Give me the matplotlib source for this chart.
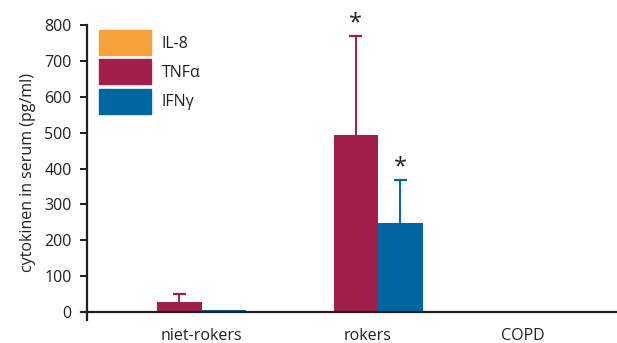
import numpy as np
import matplotlib.pyplot as plt
from matplotlib.patches import Patch

# groepen en cytokine-waarden (pg/ml)
groups = ['niet-rokers', 'rokers', 'COPD']
group_pos = [0.0, 1.0, 2.0]
label_pos = [0.0, 0.94, 1.82]
il8 = [0, 0, 0]
tnf = [28, 494, 0]
tnf_err = [22, 276, 0]
ifn = [5, 247, 0]
ifn_err = [0, 120, 0]
signif_tnf = [False, True, False]
signif_ifn = [False, True, False]

c_il8 = '#f7a13b'
c_tnf = '#a11f4a'
c_ifn = '#0066a2'
txt = '#231f20'

plt.rcParams['font.family'] = ['Open Sans', 'DejaVu Sans']
plt.rcParams['font.size'] = 11.5
plt.rcParams['text.color'] = txt

fig = plt.figure(figsize=(6.17, 3.43), dpi=100)
ax = fig.add_axes([0.141, 0.067, 0.859, 0.860])

w = 0.252
x = np.array(group_pos)
ax.bar(x - 1.5 * w, il8, w, color=c_il8, linewidth=0)
ax.bar(x - w / 2, tnf, w, color=c_tnf, linewidth=0)
ax.bar(x + w / 2, ifn, w, color=c_ifn, linewidth=0)

# alleen bovenste foutbalk met dop
cap = 0.037
for xs, vals, errs, sig, col in [(x - w / 2, tnf, tnf_err, signif_tnf, c_tnf),
                                 (x + w / 2, ifn, ifn_err, signif_ifn, c_ifn)]:
    for xi, v, e, s in zip(xs, vals, errs, sig):
        if e > 0:
            ax.vlines(xi, v, v + e, color=col, lw=1.4)
            ax.hlines(v + e, xi - cap, xi + cap, color=col, lw=1.6)
        if s:
            ax.text(xi, v + e + 2, '*', ha='center', va='bottom', fontsize=17,
                    color=txt, clip_on=False)

ax.set_xlim(-0.649, 2.354)
ax.set_ylim(-22, 800)
ax.set_yticks(range(0, 801, 100))
ax.axhline(0, color=txt, lw=1.6, xmin=-0.012, clip_on=False, zorder=3)

ax.set_xticks(label_pos)
ax.set_xticklabels(groups)
ax.tick_params(axis='x', length=0, pad=5.5, colors=txt)
ax.tick_params(axis='y', length=5, width=1.4, pad=6, colors=txt)
for s in ['top', 'right', 'bottom']:
    ax.spines[s].set_visible(False)
ax.spines['left'].set_color(txt)
ax.spines['left'].set_linewidth(1.6)
ax.set_ylabel('cytokinen in serum (pg/ml)', color=txt, labelpad=6)

handles = [Patch(color=c_il8), Patch(color=c_tnf), Patch(color=c_ifn)]
leg = ax.legend(handles, ['IL-8', 'TNFα', 'IFNγ'], loc='upper left',
                bbox_to_anchor=(0.01, 1.005), frameon=False, handlelength=3.25,
                handleheight=2.03, labelspacing=0.28, handletextpad=0.7,
                borderaxespad=0)

fig.savefig('out.png', dpi=100)
